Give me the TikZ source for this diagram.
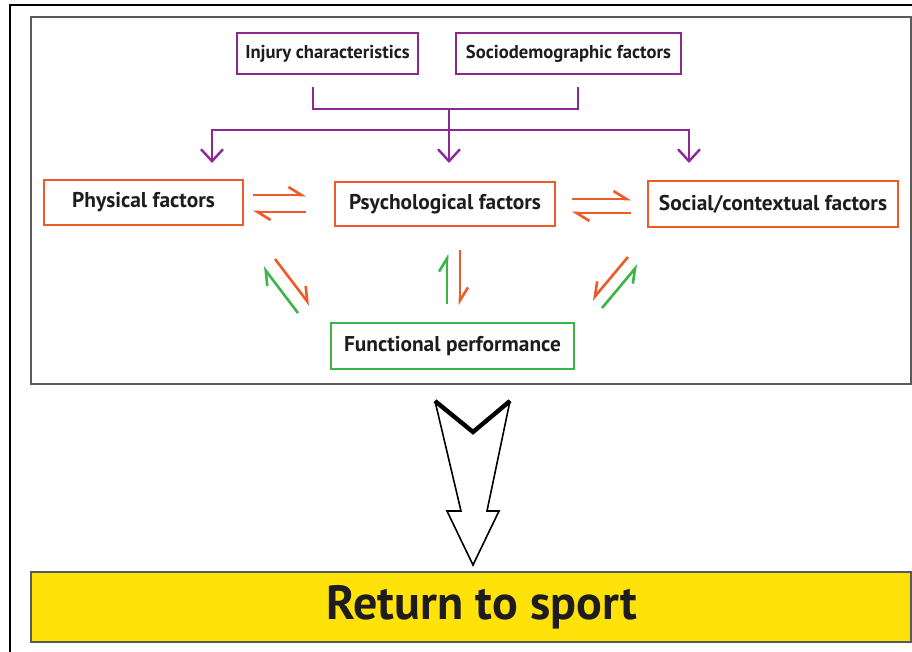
\documentclass[tikz,border=0pt]{standalone}
\usepackage{fontspec}
\setmainfont{PT Sans}
\usetikzlibrary{arrows.meta,positioning}
\definecolor{rtspurple}{RGB}{140,40,145}
\definecolor{rtsorange}{RGB}{238,90,40}
\definecolor{rtsgreen}{RGB}{60,180,75}
\definecolor{rtsyellow}{RGB}{255,226,10}
\definecolor{rtsframe}{RGB}{90,90,90}
\definecolor{rtstext}{RGB}{30,28,30}

\begin{document}
\begin{tikzpicture}[x=0.5pt,y=-0.5pt,
		% Style definitions
		factor/.style={
			rectangle,
			draw=#1,
			fill=white,
			line width=1.3pt,
			inner sep=0pt,
			text=rtstext,
			font=\fontsize{10.7}{12}\selectfont\bfseries
		},
		topfactor/.style={
			factor=rtspurple,
			minimum height=20.5pt,
			font=\fontsize{9.3}{11}\selectfont\bfseries
		},
		link/.style={
			draw=rtspurple,
			line width=1.2pt
		},
		linkarrow/.style={
			link,
			-{Straight Barb[length=6pt,width=11pt,line width=1.2pt]}
		},
		harp/.style={
			draw=#1,
			line width=1.3pt,
			-{Straight Barb[harpoon,length=6.5pt,width=8pt,line width=1.3pt]}
		},
		harpswap/.style={
			draw=#1,
			line width=1.3pt,
			-{Straight Barb[harpoon,swap,length=6.5pt,width=8pt,line width=1.3pt]}
		}
		]
		\useasboundingbox (0,0) rectangle (912,652);
		
		% Frames
		\draw[black, line width=1.1pt] (912,5) -- (10,5) -- (10,652);
		\draw[rtsframe, line width=0.8pt] (31,17) rectangle (911,384);
		
		% Influencing factors
		\node[topfactor, minimum width=90.5pt] (inj) at (327.5,53.5) {Injury characteristics};
		\node[topfactor, minimum width=112.5pt] (socio) at (568.5,53.5) {Sociodemographic factors};
		
		% Main factors
		\node[factor=rtsorange, minimum width=99.5pt, minimum height=22.5pt] (phys) at (143.5,202.5) {Physical factors};
		\node[factor=rtsorange, minimum width=110pt, minimum height=22pt] (psy) at (445,204) {Psychological factors};
		\node[factor=rtsorange, minimum width=125pt, minimum height=23pt] (soc) at (773,204) {Social/contextual factors};
		\node[factor=rtsgreen, minimum width=121.5pt, minimum height=23pt] (func) at (452.5,346) {Functional performance};
		
		% Outcome
		\node[rectangle, draw=rtsframe, line width=0.8pt, fill=rtsyellow, minimum width=440pt, minimum height=35pt,
			text=rtstext, font=\fontsize{24}{27}\selectfont\bfseries] (rts) at (471,607) {\hspace*{11pt}Return to sport};
		
		% Purple bracket and fork
		\coordinate (j1) at (313,87);
		\coordinate (j2) at (578,87);
		\coordinate (jm) at (449,109);
		\coordinate (fork) at (449,130);
		\coordinate (t1) at (212,163);
		\coordinate (t2) at (449,163);
		\coordinate (t3) at (689,163);
		\draw[link] (j1) -- (j1 |- jm) -- (j2 |- jm) -- (j2);
		\draw[link] (jm) -- (fork);
		\draw[linkarrow] (fork) -| (t1);
		\draw[linkarrow] (fork) -- (t2);
		\draw[linkarrow] (fork) -| (t3);
		
		% Harpoons between factors
		\coordinate (pa1) at (253,195);
		\coordinate (pa2) at (306,195);
		\coordinate (pb1) at (253,212);
		\coordinate (pb2) at (306,212);
		\draw[harp=rtsorange] (pa1) -- (pa2);
		\draw[harp=rtsorange] (pb2) -- (pb1);
		\coordinate (sa1) at (572,199);
		\coordinate (sa2) at (631,199);
		\coordinate (sb1) at (572,213);
		\coordinate (sb2) at (631,213);
		\draw[harp=rtsorange] (sa1) -- (sa2);
		\draw[harp=rtsorange] (sb2) -- (sb1);
		
		% Harpoons to functional performance
		\coordinate (lg1) at (298,313);
		\coordinate (lg2) at (263,267);
		\coordinate (lo1) at (275,259);
		\coordinate (lo2) at (310,305);
		\draw[harp=rtsgreen] (lg1) -- (lg2);
		\draw[harp=rtsorange] (lo1) -- (lo2);
		\coordinate (mg1) at (447,304);
		\coordinate (mg2) at (447,254);
		\coordinate (mo1) at (460,250);
		\coordinate (mo2) at (460,305);
		\draw[harp=rtsgreen] (mg1) -- (mg2);
		\draw[harp=rtsorange] (mo1) -- (mo2);
		\coordinate (ro1) at (628,257);
		\coordinate (ro2) at (592,300);
		\coordinate (rg1) at (602,308);
		\coordinate (rg2) at (638,265);
		\draw[harpswap=rtsorange] (ro1) -- (ro2);
		\draw[harpswap=rtsgreen] (rg1) -- (rg2);
		
		% Hollow arrow to return to sport
		\coordinate (bl) at (435,401);
		\coordinate (bn) at (473,432);
		\coordinate (br) at (510,401);
		\coordinate (btip) at (473,565);
		\draw[black, line width=0.8pt, line join=miter] (br) -- (487,511) -- (499,511) -- (btip) -- (447,511) -- (461,511) -- (bl);
		\draw[black, line width=2.2pt, line join=miter] (bl) -- (bn) -- (br);
		
	\end{tikzpicture}
\end{document}
